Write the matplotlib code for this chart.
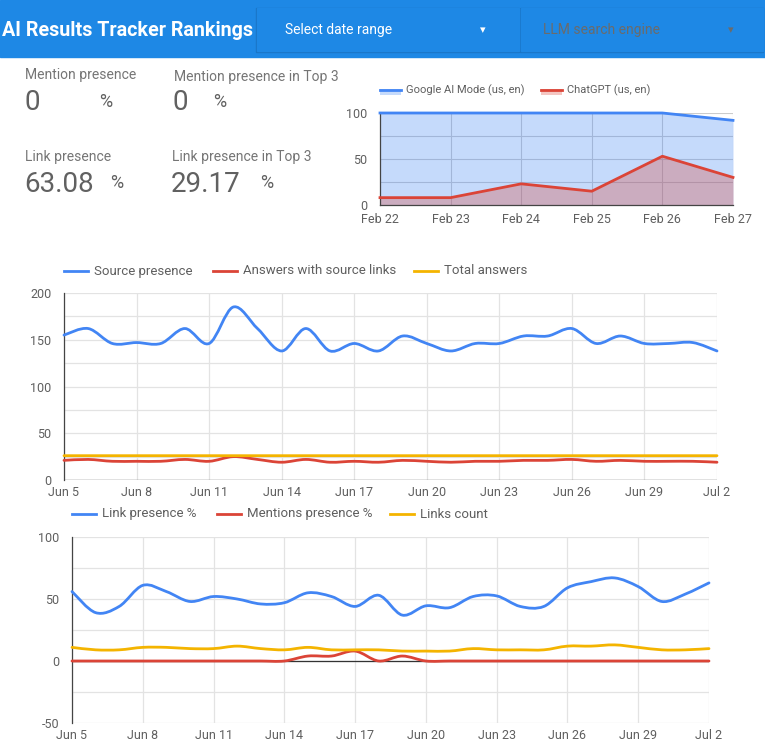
import numpy as np
import matplotlib
matplotlib.use("Agg")
import matplotlib.pyplot as plt
from matplotlib.patches import Rectangle, PathPatch
from matplotlib.path import Path
from matplotlib.lines import Line2D

plt.rcParams['font.family'] = ['Roboto', 'DejaVu Sans']
plt.rcParams['axes.unicode_minus'] = False

# ---- data ----
kpi_labels = ["Mention presence", "Mention presence in Top 3", "Link presence", "Link presence in Top 3"]
kpi_values = ["0", "0", "63.08", "29.17"]

feb_days = ["Feb 22", "Feb 23", "Feb 24", "Feb 25", "Feb 26", "Feb 27"]
google_ai_mode = [100, 100, 100, 100, 100, 92]
chatgpt = [8, 8, 23, 15, 53, 30]

jun_days = ["Jun 5", "Jun 6", "Jun 7", "Jun 8", "Jun 9", "Jun 10", "Jun 11", "Jun 12", "Jun 13",
            "Jun 14", "Jun 15", "Jun 16", "Jun 17", "Jun 18", "Jun 19", "Jun 20", "Jun 21", "Jun 22",
            "Jun 23", "Jun 24", "Jun 25", "Jun 26", "Jun 27", "Jun 28", "Jun 29", "Jun 30", "Jul 1", "Jul 2"]
source_presence = [155, 162, 146, 147, 146, 162, 146, 185, 162, 138, 162, 138, 146, 138, 154, 146,
                   138, 146, 146, 154, 154, 162, 146, 154, 146, 146, 147, 138]
answers_with_links = [21, 22, 20, 20, 20, 22, 20, 25, 22, 19, 22, 19, 20, 19, 21, 20,
                      19, 20, 20, 21, 21, 22, 20, 21, 20, 20, 20, 19]
total_answers = [26] * 28

link_presence = [56, 39, 44, 61, 56, 48, 52, 50, 46, 47, 55, 52, 44, 53, 37, 44.5,
                 43, 52, 52.5, 44, 44, 59, 64, 67, 60, 48, 54, 63]
mentions_presence = [0, 0, 0, 0, 0, 0, 0, 0, 0, 0, 4, 4, 8, 0, 4, 0,
                     0, 0, 0, 0, 0, 0, 0, 0, 0, 0, 0, 0]
links_count = [11, 9, 9, 11, 11, 10, 10, 12, 10, 9, 11, 9, 9, 9, 8, 8,
               8, 10, 9, 9, 9, 12, 12, 13, 11, 9, 9, 10]

BLUE, RED, YELLOW = "#4285f4", "#db4437", "#f4b400"
HEADER = "#1e88e5"
TXT = "#5f5f5f"
GRID = "#e3e3e3"

W, H = 765, 748
fig = plt.figure(figsize=(W / 100, H / 100), dpi=100)


def fx(x):
    return x / W


def fy(y):
    return 1 - y / H


def box(l, t, r, b):
    return [l / W, 1 - b / H, (r - l) / W, (b - t) / H]


def smooth(ax, x, y, color, lw=2, z=3):
    # Bezier curve through the points (Catmull-Rom tangents), like Google's "function" curves
    x = np.asarray(x, float)
    y = np.asarray(y, float)
    n = len(x)
    verts = [(x[0], y[0])]
    codes = [Path.MOVETO]
    for i in range(n - 1):
        a = max(i - 1, 0)
        d = min(i + 2, n - 1)
        c1 = (x[i] + (x[i + 1] - x[a]) / 6, y[i] + (y[i + 1] - y[a]) / 6)
        c2 = (x[i + 1] - (x[d] - x[i]) / 6, y[i + 1] - (y[d] - y[i]) / 6)
        verts += [c1, c2, (x[i + 1], y[i + 1])]
        codes += [Path.CURVE4] * 3
    ax.add_patch(PathPatch(Path(verts, codes), fill=False, edgecolor=color, lw=lw,
                           capstyle='round', joinstyle='round', zorder=z, clip_on=False))


# ---- header ----
fig.patches.append(Rectangle((0, fy(57)), 1, 57 / H, transform=fig.transFigure,
                             color=HEADER, zorder=0))
for l, r in [(256, 518), (520, 762)]:
    fig.patches.append(Rectangle((fx(l), fy(52)), (r - l + 1) / W, 44 / H,
                                 transform=fig.transFigure, color="#1a74c4", zorder=1))
    fig.patches.append(Rectangle((fx(l + 0.6), fy(50.5)), (r - l) / W, 42.5 / H,
                                 transform=fig.transFigure, color=HEADER, zorder=2))
fig.text(fx(2), fy(30), "AI Results Tracker Rankings", color="white", fontsize=14.2,
         fontweight="bold", va="center", ha="left")
fig.text(fx(285), fy(30), "Select date range", color="white", fontsize=10, va="center")
fig.text(fx(483), fy(30), "▾", color="white", fontsize=8, va="center", ha="center",
         family=["DejaVu Sans"])
fig.text(fx(543), fy(30), "LLM search engine", color="#6b6b6b", fontsize=10, va="center")
fig.text(fx(731), fy(30), "▾", color="#6b6b6b", fontsize=8, va="center", ha="center",
         family=["DejaVu Sans"])

# ---- KPI scorecards ----
kpi_pos = [(25, 79, 110, 99, 107), (174, 81, 110, 213, 107),
           (25, 161, 192, 110, 188), (172, 161, 192, 260, 188)]
for lab, val, (x, ly, vy, px, py) in zip(kpi_labels, kpi_values, kpi_pos):
    fig.text(fx(x), fy(ly), lab, color="#757575", fontsize=10, va="baseline")
    fig.text(fx(x - 1), fy(vy), val, color="#616161", fontsize=20, va="baseline")
    fig.text(fx(px), fy(py), "%", color="#616161", fontsize=13, va="baseline")

# ---- small area chart ----
ax1 = fig.add_axes(box(380, 113, 733, 205))
xf = np.arange(len(feb_days))
ax1.fill_between(xf, 0, google_ai_mode, color=BLUE, alpha=0.3, lw=0, zorder=2)
ax1.fill_between(xf, 0, chatgpt, color=RED, alpha=0.3, lw=0, zorder=2)
ax1.plot(xf, google_ai_mode, color=BLUE, lw=2, zorder=3, clip_on=False)
ax1.plot(xf, chatgpt, color=RED, lw=2, zorder=3, clip_on=False)
ax1.set_xlim(0, 5)
ax1.set_ylim(0, 100)
ax1.set_xticks(xf, feb_days)
ax1.set_yticks([0, 50, 100])
ax1.set_yticks([25, 75], minor=True)
ax1.grid(which="both", color="#cccccc", lw=0.8, zorder=1)
ax1.set_axisbelow(True)
ax1.tick_params(which="both", length=0, labelsize=9, labelcolor=TXT)
ax1.tick_params(axis="y", pad=9)
ax1.tick_params(axis="x", pad=6)
for s in ["top", "right"]:
    ax1.spines[s].set_visible(False)
for s in ["left", "bottom"]:
    ax1.spines[s].set_color("#444444")
    ax1.spines[s].set_linewidth(0.9)

# legend of the small chart
for x0, col, lab in [(380, BLUE, "Google AI Mode (us, en)"), (541, RED, "ChatGPT (us, en)")]:
    fig.patches.append(Rectangle((fx(x0), fy(95)), 21 / W, 6 / H, transform=fig.transFigure,
                                 color=col, alpha=0.3, lw=0))
    fig.add_artist(Line2D([fx(x0), fx(x0 + 21)], [fy(89.5), fy(89.5)], color=col, lw=2))
    fig.text(fx(x0 + 26), fy(90), lab, color=TXT, fontsize=8, va="center")


def line_chart(rect, series, ylim, yt, yminor, legend_y):
    ax = fig.add_axes(rect)
    x = np.arange(len(jun_days))
    for vals, col, _, _ in series:
        smooth(ax, x, vals, col)
    ax.set_xlim(0, len(jun_days) - 1)
    ax.set_ylim(*ylim)
    ax.set_xticks(x[::3], jun_days[::3])
    ax.set_yticks(yt)
    ax.set_yticks(yminor, minor=True)
    ax.grid(which="both", color=GRID, lw=0.9)
    ax.set_axisbelow(True)
    ax.tick_params(which="both", length=0, labelsize=9, labelcolor=TXT)
    ax.tick_params(axis="y", pad=9)
    ax.tick_params(axis="x", pad=4)
    for s in ["top", "right", "bottom"]:
        ax.spines[s].set_visible(False)
    ax.spines["left"].set_color("#444444")
    ax.spines["left"].set_linewidth(0.9)
    ax.axhline(0, color="#333333", lw=0.9, zorder=2)
    for (vals, col, lab, lx) in series:
        fig.add_artist(Line2D([fx(lx), fx(lx + 24)], [fy(legend_y), fy(legend_y)], color=col, lw=2))
        fig.text(fx(lx + 30), fy(legend_y), lab, color=TXT, fontsize=9.5, va="center")
    return ax


line_chart(box(64, 293, 717, 480),
           [(source_presence, BLUE, "Source presence", 64),
            (answers_with_links, RED, "Answers with source links", 213),
            (total_answers, YELLOW, "Total answers", 414)],
           (0, 200), [0, 50, 100, 150, 200], [25, 75, 125, 175], 271)

line_chart(box(72, 537, 709, 723),
           [(link_presence, BLUE, "Link presence %", 72),
            (mentions_presence, RED, "Mentions presence %", 217),
            (links_count, YELLOW, "Links count", 390)],
           (-50, 100), [-50, 0, 50, 100], [-25, 25, 75], 514)

fig.savefig("out.png", dpi=100)
